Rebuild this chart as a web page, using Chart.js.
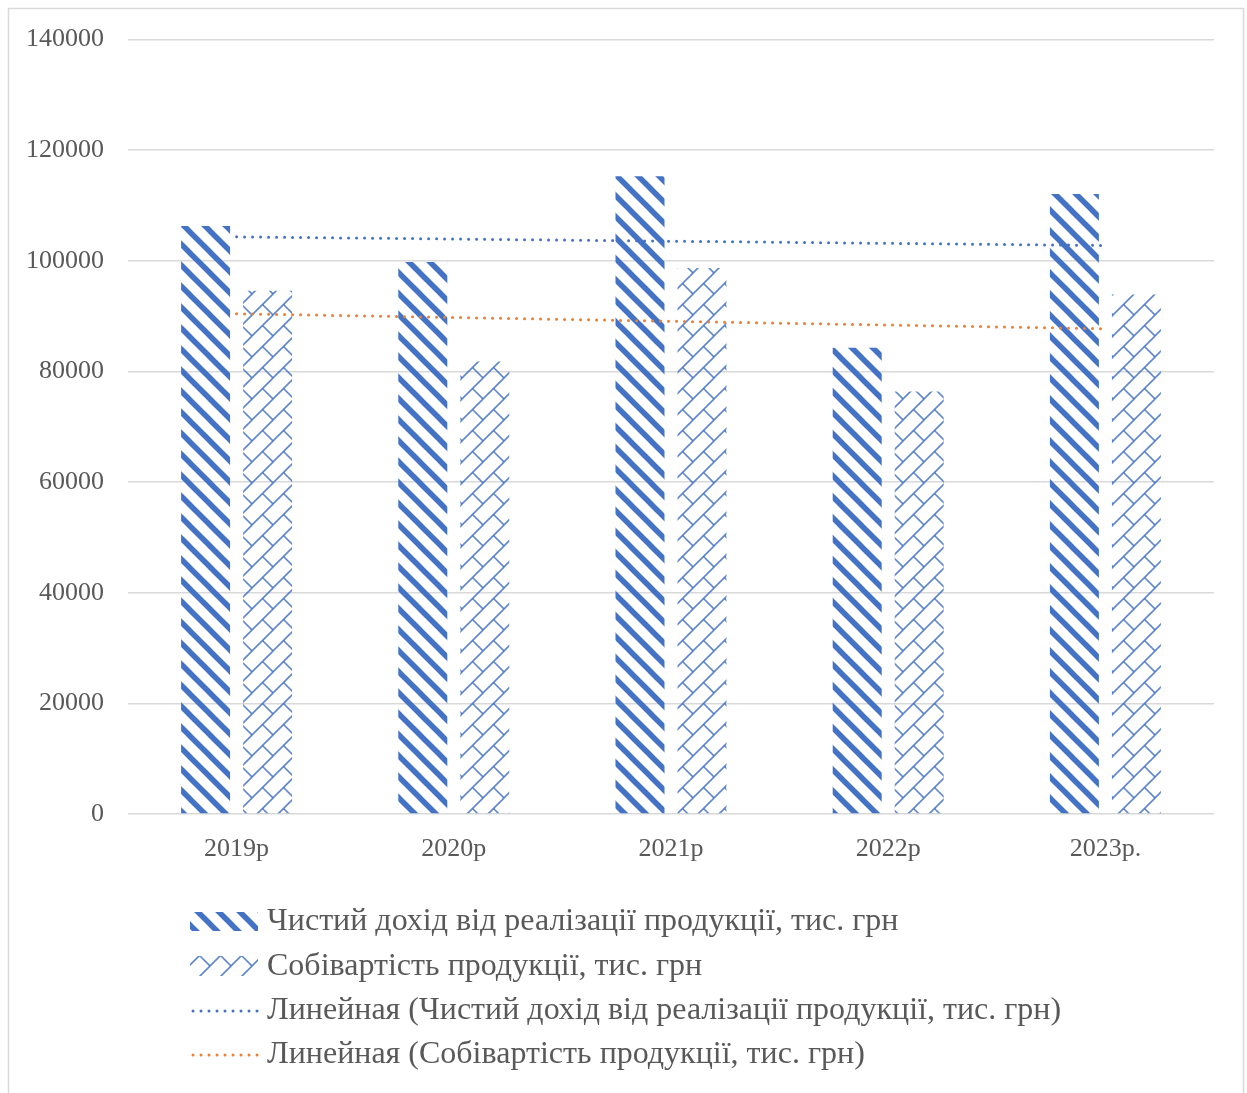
<!DOCTYPE html>
<html>
<head>
<meta charset="utf-8">
<script src="https://cdn.jsdelivr.net/npm/chart.js@4"></script>
<style>
  html, body { margin: 0; padding: 0; background: #fff; }
  #wrap { width: 1247px; height: 1093px; }
</style>
</head>
<body>
<div id="wrap"><canvas id="chart" width="1247" height="1093"></canvas></div>
<script>
const years = ['2019р', '2020р', '2021р', '2022р', '2023р.'];
const revenue = [106300, 99800, 115300, 84300, 112100];
const cost = [94600, 81800, 98700, 76400, 93900];
const revenueLabel = 'Чистий дохід від реалізації продукції, тис. грн';
const costLabel = 'Собівартість продукції, тис. грн';
const trendPrefix = 'Линейная';

const BLUE = '#4472C4';
const ORANGE = '#ED7D31';
const TEXT = '#595959';
const SERIF = "'Liberation Serif', 'Times New Roman', serif";

// least squares line over the category index
function trend(values) {
    const n = values.length;
    const mx = (n - 1) / 2;
    const my = values.reduce((a, b) => a + b, 0) / n;
    let num = 0, den = 0;
    values.forEach((v, i) => {
        num += (i - mx) * (v - my);
        den += (i - mx) * (i - mx);
    });
    const slope = num / den;
    return values.map((v, i) => my + slope * (i - mx));
}

// wide downward diagonal stripes
function stripePattern(ctx, color) {
    const s = 21;
    const c = document.createElement('canvas');
    c.width = c.height = s;
    const g = c.getContext('2d');
    g.strokeStyle = color;
    g.lineWidth = 5.5;
    for (let k = -1; k <= 1; k++) {
        g.beginPath();
        g.moveTo(k * s - s, -s);
        g.lineTo(k * s + 2 * s, 2 * s);
        g.stroke();
    }
    return ctx.createPattern(c, 'repeat');
}

// diagonal brick
function brickPattern(ctx, color) {
    const s = 21;
    const c = document.createElement('canvas');
    c.width = c.height = s;
    const g = c.getContext('2d');
    g.strokeStyle = color;
    g.globalAlpha = 0.85;
    g.lineWidth = 1.6;
    for (let k = -1; k <= 1; k++) {
        g.beginPath();
        g.moveTo(-s + k * s, 2 * s);
        g.lineTo(2 * s + k * s, -s);
        g.stroke();
    }
    [[0, 0], [-s, 0], [0, -s], [-s, -s]].forEach(([dx, dy]) => {
        g.beginPath();
        g.moveTo(s / 2 + dx, s / 2 + dy);
        g.lineTo(s + dx, s + dy);
        g.stroke();
    });
    return ctx.createPattern(c, 'repeat');
}

const canvas = document.getElementById('chart');
const ctx = canvas.getContext('2d');
const stripes = stripePattern(ctx, BLUE);
const bricks = brickPattern(ctx, BLUE);

// white background and thin outer frame
const framePlugin = {
    id: 'frame',
    beforeDraw(chart) {
        const c = chart.ctx;
        c.save();
        c.fillStyle = '#fff';
        c.fillRect(0, 0, chart.width, chart.height);
        c.strokeStyle = '#d9d9d9';
        c.lineWidth = 1.5;
        c.strokeRect(8.5, 8.5, 1235, 1110);
        c.restore();
    }
};

// legend stacked in rows under the axis, left aligned
const legendPlugin = {
    id: 'rowsLegend',
    afterDraw(chart) {
        const c = chart.ctx;
        const x0 = 190, w = 68, tx = 267;
        const rows = [922, 967, 1011, 1055];
        c.save();
        chart.data.datasets.forEach((ds, i) => {
            const y = rows[i];
            if (ds.type === 'bar') {
                c.fillStyle = ds.backgroundColor;
                if (i === 0) c.fillRect(x0, y - 10, w, 19);
                else c.fillRect(x0, y - 11, w, 20);
            } else {
                c.strokeStyle = ds.borderColor;
                c.lineWidth = 3;
                c.lineCap = 'round';
                c.setLineDash([0, 8]);
                c.beginPath();
                c.moveTo(x0 + 3, y);
                c.lineTo(x0 + w, y);
                c.stroke();
                c.setLineDash([]);
            }
            c.fillStyle = TEXT;
            c.font = '32px ' + SERIF;
            c.textBaseline = 'middle';
            c.textAlign = 'left';
            c.fillText(ds.label, tx, y);
        });
        c.restore();
    }
};

new Chart(ctx, {
    data: {
        labels: years,
        datasets: [
            {
                type: 'bar',
                label: revenueLabel,
                data: revenue,
                backgroundColor: stripes,
                borderWidth: 0,
                order: 2
            },
            {
                type: 'bar',
                label: costLabel,
                data: cost,
                backgroundColor: bricks,
                borderWidth: 0,
                order: 2
            },
            {
                type: 'line',
                label: trendPrefix + ' (' + revenueLabel + ')',
                data: trend(revenue),
                borderColor: BLUE,
                borderWidth: 3,
                borderDash: [0, 8],
                borderCapStyle: 'round',
                pointRadius: 0,
                fill: false,
                order: 1
            },
            {
                type: 'line',
                label: trendPrefix + ' (' + costLabel + ')',
                data: trend(cost),
                borderColor: ORANGE,
                borderWidth: 3,
                borderDash: [0, 8],
                borderCapStyle: 'round',
                pointRadius: 0,
                fill: false,
                order: 1
            }
        ]
    },
    options: {
        responsive: false,
        animation: false,
        layout: { padding: { top: 37, right: 33, left: 0, bottom: 0 } },
        datasets: {
            bar: { categoryPercentage: 0.571, barPercentage: 0.79 }
        },
        scales: {
            x: {
                grid: { display: false },
                border: { display: false },
                ticks: { color: TEXT, font: { family: SERIF, size: 26 }, padding: 12 },
                afterFit: scale => { scale.height = 279; }
            },
            y: {
                min: 0,
                max: 140000,
                ticks: {
                    stepSize: 20000,
                    color: TEXT,
                    font: { family: SERIF, size: 26 },
                    padding: 24,
                    callback: value => String(value)
                },
                grid: { color: '#d9d9d9', lineWidth: 1.5, drawTicks: false },
                border: { display: false },
                afterFit: scale => { scale.width = 128; }
            }
        },
        plugins: {
            legend: { display: false },
            tooltip: { enabled: false }
        }
    },
    plugins: [framePlugin, legendPlugin]
});
</script>
</body>
</html>
